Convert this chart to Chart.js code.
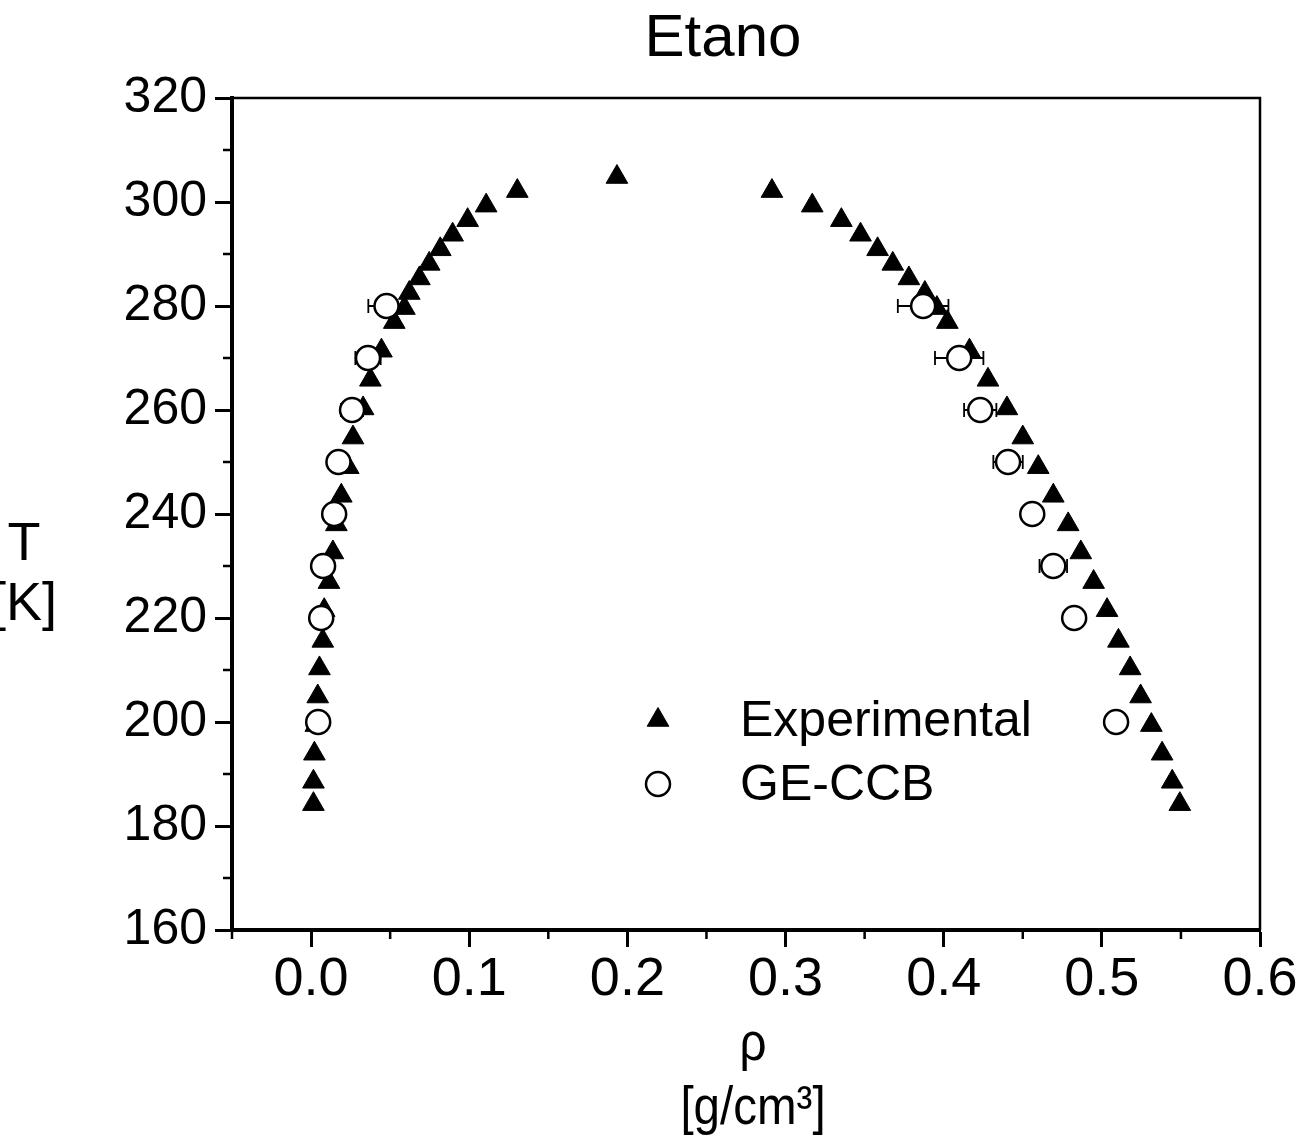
<!DOCTYPE html>
<html>
<head>
<meta charset="utf-8">
<title>Etano</title>
<script src="https://cdn.jsdelivr.net/npm/chart.js@4.4.1/dist/chart.umd.min.js"></script>
<style>
  body { margin: 0; background: #fff; }
</style>
</head>
<body>
<canvas id="grafico" width="1309" height="1144"></canvas>
<script>
// temperaturas experimentais (K), ramo de vapor e de liquido
const tExp = [184.2, 188.5, 193.9, 199.4, 204.9, 210.3, 215.6, 221.5, 226.9, 232.6, 238.0, 243.5, 249.0, 254.7, 260.3, 265.8, 271.4, 276.9, 279.6, 282.5, 285.3, 288.1, 290.9, 293.7, 296.5, 299.3, 302.1]
const rhoVapor = [0.0015, 0.0015, 0.0021, 0.0030, 0.0042, 0.0053, 0.0074, 0.0083, 0.0113, 0.0138, 0.0160, 0.0191, 0.0235, 0.0265, 0.0329, 0.0375, 0.0445, 0.0526, 0.0590, 0.0621, 0.0685, 0.0747, 0.0817, 0.0895, 0.0990, 0.1107, 0.1304]
const rhoLiquido = [0.5493, 0.5445, 0.5381, 0.5313, 0.5245, 0.5179, 0.5105, 0.5033, 0.4948, 0.4867, 0.4787, 0.4693, 0.4598, 0.4500, 0.4400, 0.4280, 0.4163, 0.4023, 0.3957, 0.3881, 0.3780, 0.3678, 0.3582, 0.3474, 0.3353, 0.3169, 0.2914]
const tCritico = [304.8]
const rhoCritico = [0.1934]

// simulacao GE-CCB
const tSim = [200, 220, 230, 240, 250, 260, 270, 280]
const rhoSimVapor = [0.0045, 0.0064, 0.0076, 0.0146, 0.0173, 0.0259, 0.0360, 0.0477]
const rhoSimLiquido = [0.5090, 0.4825, 0.4693, 0.4560, 0.4407, 0.4231, 0.4098, 0.3870]
const erroSimVapor = [0.003, 0.004, 0.004, 0.005, 0.006, 0.007, 0.008, 0.0115]
const erroSimLiquido = [0.003, 0.005, 0.0087, 0.006, 0.0093, 0.0102, 0.0153, 0.016]

const xTicks = [0, 0.1, 0.2, 0.3, 0.4, 0.5, 0.6]
const yTicks = [160, 180, 200, 220, 240, 260, 280, 300, 320]
const xMinor = [-0.05, 0.05, 0.15, 0.25, 0.35, 0.45, 0.55]
const yMinor = [170, 190, 210, 230, 250, 270, 290, 310]

const fonte = "'Liberation Sans', Arial, sans-serif"

function pontos(xs, ys) {
    return xs.map((x, i) => ({ x: x, y: ys[i] }))
}

var expData = pontos(rhoVapor, tExp).concat(pontos(rhoCritico, tCritico)).concat(pontos(rhoLiquido, tExp))
var simData = pontos(rhoSimVapor, tSim).concat(pontos(rhoSimLiquido, tSim))
var simErro = erroSimVapor.concat(erroSimLiquido)

const moldura = {
    id: 'moldura',
    afterDatasetDraw(chart, args) {
        // barras de erro por baixo dos circulos
        if (args.index !== 0) return
        const ctx = chart.ctx
        const sx = chart.scales.x, sy = chart.scales.y
        ctx.save()
        ctx.strokeStyle = '#000'
        ctx.lineWidth = 1.8
        simData.forEach((p, i) => {
            const y = sy.getPixelForValue(p.y)
            const x1 = sx.getPixelForValue(p.x - simErro[i])
            const x2 = sx.getPixelForValue(p.x + simErro[i])
            ctx.beginPath()
            ctx.moveTo(x1, y); ctx.lineTo(x2, y)
            ctx.moveTo(x1, y - 7); ctx.lineTo(x1, y + 7)
            ctx.moveTo(x2, y - 7); ctx.lineTo(x2, y + 7)
            ctx.stroke()
        })
        ctx.restore()
    },
    afterDraw(chart) {
        const ctx = chart.ctx
        const a = chart.chartArea
        const sx = chart.scales.x, sy = chart.scales.y
        ctx.save()
        ctx.strokeStyle = '#000'
        // topo e direita
        ctx.lineWidth = 2.5
        ctx.beginPath()
        ctx.moveTo(a.left, a.top); ctx.lineTo(a.right, a.top); ctx.lineTo(a.right, a.bottom)
        ctx.stroke()
        // ticks menores
        ctx.lineWidth = 2.5
        ctx.beginPath()
        xMinor.forEach(v => {
            const x = sx.getPixelForValue(v)
            ctx.moveTo(x, a.bottom); ctx.lineTo(x, a.bottom + 9)
        })
        yMinor.forEach(v => {
            const y = sy.getPixelForValue(v)
            ctx.moveTo(a.left, y); ctx.lineTo(a.left - 9, y)
        })
        ctx.stroke()

        ctx.fillStyle = '#000'
        ctx.textAlign = 'center'
        ctx.textBaseline = 'alphabetic'
        ctx.font = '60px ' + fonte
        ctx.fillText('Etano', 723, 56)

        ctx.font = '54px ' + fonte
        ctx.fillText('T', 24, 560)
        ctx.fillText('[K]', 24, 620)

        // rotulo do eixo x, um pouco estreitado como no original
        ctx.save()
        ctx.translate(753, 0)
        ctx.scale(0.88, 1)
        ctx.font = '54px ' + fonte
        ctx.fillText('\u03c1', 0, 1060)
        ctx.fillText('[g/cm\u00b3]', 0, 1124)
        ctx.restore()

        // legenda
        const ds = chart.data.datasets
        const linhas = [[ds[0], 720], [ds[1], 784]]
        ctx.textAlign = 'left'
        ctx.textBaseline = 'middle'
        ctx.font = '50px ' + fonte
        linhas.forEach(([d, y]) => {
            ctx.fillStyle = d.backgroundColor
            ctx.strokeStyle = d.borderColor
            ctx.lineWidth = d.borderWidth
            Chart.helpers.drawPoint(ctx, { pointStyle: d.pointStyle, radius: d.pointRadius, borderWidth: d.borderWidth, rotation: 0 }, 658, y)
            ctx.fillStyle = '#000'
            ctx.fillText(d.label, 740, y + 2)
        })
        ctx.restore()
    }
}

var grafico = new Chart(document.getElementById('grafico'), {
    type: 'scatter',
    data: {
        datasets: [{
            label: 'Experimental',
            data: expData,
            pointStyle: 'triangle',
            pointRadius: 12.5,
            pointHoverRadius: 12.5,
            backgroundColor: '#000',
            borderColor: '#000',
            borderWidth: 1,
            order: 1
        }, {
            label: 'GE-CCB',
            data: simData,
            pointStyle: 'circle',
            pointRadius: 12,
            pointHoverRadius: 12,
            backgroundColor: '#fff',
            borderColor: '#000',
            borderWidth: 2.5,
            order: 0
        }]
    },
    options: {
        responsive: false,
        animation: false,
        layout: { padding: { left: 0, right: 49, top: 98, bottom: 0 } },
        plugins: {
            legend: { display: false },
            title: { display: false },
            tooltip: { enabled: false }
        },
        scales: {
            x: {
                type: 'linear',
                min: -0.05,
                max: 0.6,
                afterBuildTicks(scale) { scale.ticks = xTicks.map(v => ({ value: v })) },
                afterFit(scale) { scale.height = 214 },
                border: { display: true, color: '#000', width: 4 },
                grid: { drawOnChartArea: false, drawTicks: true, tickLength: 17, tickWidth: 3, tickColor: '#000' },
                ticks: {
                    color: '#000',
                    padding: 1,
                    maxRotation: 0,
                    font: { family: fonte, size: 54 },
                    callback: v => v.toFixed(1)
                }
            },
            y: {
                type: 'linear',
                min: 160,
                max: 320,
                afterBuildTicks(scale) { scale.ticks = yTicks.map(v => ({ value: v })) },
                afterFit(scale) { scale.width = 232 },
                border: { display: true, color: '#000', width: 4 },
                grid: { drawOnChartArea: false, drawTicks: true, tickLength: 17, tickWidth: 3, tickColor: '#000' },
                ticks: {
                    color: '#000',
                    padding: 8,
                    font: { family: fonte, size: 50 },
                    callback: v => String(v)
                }
            }
        }
    },
    plugins: [moldura]
})
</script>
</body>
</html>
